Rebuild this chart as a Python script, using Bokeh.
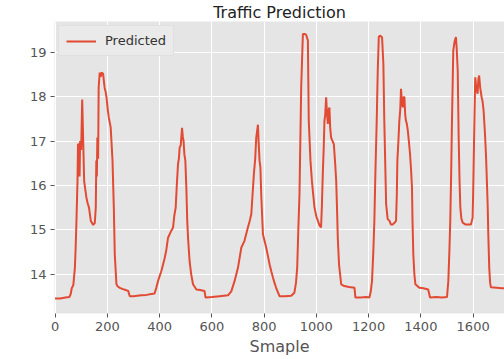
from bokeh.plotting import figure
from bokeh.models import Range1d, FixedTicker, Legend, LegendItem, ColumnDataSource
from bokeh.embed import file_html
from bokeh.resources import INLINE

# ---- data ----
sample = [0, 20, 40, 55, 60, 64, 70, 76, 79, 82, 86, 88, 90, 92, 94, 96, 100, 104, 107, 111.5,
          116, 120, 125, 130, 137, 146, 152, 156, 158, 160, 162, 165, 167, 171, 175, 178, 184, 188,
          190, 194, 197, 202, 205.6, 213, 220, 225, 228.6, 235, 240, 248, 260, 270, 280, 286, 300,
          330, 350, 369, 381, 388, 394, 407, 420, 426, 432.5, 445, 451.7, 456, 461.7, 466, 470.7,
          474, 477, 481, 486, 489, 492, 495, 498.7, 502.5, 506, 509, 515, 521, 528, 541, 555, 572,
          576, 600, 630, 662, 674.5, 687, 700, 713, 725, 738, 745, 751, 756, 761, 766, 770, 776.5,
          779, 782.6, 786, 789, 795.6, 808, 815, 821, 828, 834, 840, 846, 859, 880, 904, 916, 922,
          926.7, 931, 935.5, 942, 948.5, 955, 961, 967.6, 969, 971, 977.5, 983, 988, 993, 1000,
          1006, 1012, 1018, 1021, 1025, 1028, 1031, 1034, 1037.5, 1041, 1044, 1047, 1050, 1053,
          1056.6, 1062, 1067, 1072, 1076, 1080, 1082, 1087, 1091, 1095, 1107, 1125, 1146, 1149.5,
          1170, 1190, 1203, 1208, 1213, 1218, 1222, 1226, 1231, 1235, 1239, 1245, 1251.5, 1256.5,
          1260, 1264, 1267, 1273, 1280, 1285, 1292, 1298, 1305, 1308, 1310, 1314, 1317.6, 1321,
          1324, 1327, 1330.6, 1334, 1337, 1340, 1343, 1346, 1350, 1354, 1358.5, 1362, 1366, 1368,
          1371, 1375, 1379, 1394, 1410, 1428, 1435, 1460, 1480, 1500, 1505, 1509, 1512.5, 1516,
          1519, 1522, 1524, 1529, 1534, 1537, 1541, 1544.6, 1548, 1551, 1555, 1560, 1570, 1580,
          1591.6, 1598, 1600, 1602, 1605, 1608, 1612, 1617, 1620, 1623, 1627, 1632.5, 1636, 1640,
          1645, 1649, 1652, 1655.5, 1658, 1661.6, 1665, 1668, 1690, 1710, 1721, 1750]

predicted = [13.45, 13.45, 13.47, 13.48, 13.55, 13.68, 13.75, 14.14, 14.6, 15.2, 16.1, 16.94, 16.3,
             16.95, 16.2, 17.0, 16.8, 17.94, 17.2, 16.1, 15.9, 15.73, 15.6, 15.5, 15.2, 15.11, 15.15,
             15.5, 16.56, 16.2, 17.08, 16.6, 18.21, 18.55, 18.45, 18.55, 18.52, 18.3, 18.2, 18.1,
             17.99, 17.7, 17.54, 17.31, 16.56, 15.5, 14.45, 13.77, 13.72, 13.69, 13.66, 13.64, 13.62,
             13.5, 13.5, 13.52, 13.53, 13.55, 13.56, 13.7, 13.84, 14.07, 14.37, 14.55, 14.82, 14.98,
             15.05, 15.3, 15.5, 16.0, 16.49, 16.6, 16.86, 16.9, 17.3, 17.1, 17.0, 16.7, 16.56, 15.95,
             15.2, 14.82, 14.29, 14.0, 13.77, 13.65, 13.64, 13.62, 13.47, 13.48, 13.5, 13.52, 13.61,
             13.84, 14.14, 14.6, 14.75, 15.05, 15.2, 15.35, 15.8, 16.26, 16.6, 17.08, 17.37, 17.0,
             16.56, 16.4, 15.8, 14.9, 14.6, 14.4, 14.22, 14.05, 13.92, 13.8, 13.69, 13.5, 13.5,
             13.51, 13.58, 13.8, 14.14, 15.0, 15.8, 18.21, 19.42, 19.42, 19.4, 19.27, 18.5, 17.46,
             16.56, 16.1, 15.8, 15.5, 15.3, 15.2, 15.1, 15.05, 15.5, 16.33, 16.8, 17.46, 17.6, 17.99,
             17.6, 17.39, 17.7, 17.76, 17.3, 17.08, 17.0, 16.93, 16.5, 16.1, 15.3, 14.82, 14.2,
             13.99, 13.77, 13.73, 13.71, 13.69, 13.47, 13.47, 13.48, 13.47, 13.6, 13.84, 14.5, 15.2,
             16.3, 17.46, 18.6, 19.36, 19.38, 19.34, 18.74, 17.46, 16.4, 15.58, 15.24, 15.2, 15.12,
             15.12, 15.15, 15.2, 15.8, 16.56, 17.0, 17.46, 17.7, 18.18, 17.9, 17.76, 18.0, 17.99,
             17.6, 17.46, 17.4, 17.24, 17.0, 16.71, 16.4, 15.95, 15.2, 14.45, 14.0, 13.77, 13.69,
             13.68, 13.65, 13.47, 13.48, 13.47, 13.48, 13.84, 14.5, 15.2, 16.3, 17.46, 18.4, 19.05,
             19.25, 19.35, 19.1, 18.59, 17.08, 16.1, 15.5, 15.25, 15.16, 15.12, 15.12, 15.12, 15.27,
             15.8, 16.48, 17.5, 18.44, 18.2, 18.07, 18.4, 18.48, 18.2, 17.99, 17.9, 17.69, 17.2,
             16.71, 16.2, 15.58, 14.9, 14.14, 13.8, 13.7, 13.69, 13.68, 13.68, 13.67]

x_ticks = [0, 200, 400, 600, 800, 1000, 1200, 1400, 1600]
y_ticks = [14, 15, 16, 17, 18, 19]
title_text = "Traffic Prediction"
x_label = "Smaple"
series_name = "Predicted"

FONT = "DejaVu Sans"
RED = "#E24A33"
BG = "#E5E5E5"
TICK = "#555555"

src = ColumnDataSource(data=dict(x=sample, y=predicted))

p = figure(width=504, height=358, output_backend="svg", toolbar_location=None,
           x_range=Range1d(-2, 1720), y_range=Range1d(13.11, 19.70),
           min_border_left=54, min_border_right=0, min_border_top=0, min_border_bottom=0,
           title=title_text)

p.title.text_font = FONT
p.title.text_font_size = "16px"
p.title.text_font_style = "normal"
p.title.text_color = "#222222"
p.title.text_line_height = 1.0
p.title.align = "center"
p.title.standoff = 0
p.title.offset = 0

p.background_fill_color = BG
p.border_fill_color = "white"
p.outline_line_color = None

r = p.line("x", "y", source=src, line_color=RED, line_width=2)

for ax in (p.xaxis[0], p.yaxis[0]):
    ax.axis_line_color = None
    ax.major_tick_line_color = TICK
    ax.major_tick_out = 4
    ax.major_tick_in = 0
    ax.minor_tick_line_color = None
    ax.major_label_text_font = FONT
    ax.major_label_text_font_size = "13px"
    ax.major_label_text_color = TICK
    ax.major_label_standoff = 4

p.xaxis[0].ticker = FixedTicker(ticks=x_ticks)
p.yaxis[0].ticker = FixedTicker(ticks=y_ticks)
p.xaxis[0].axis_label = x_label
p.xaxis[0].axis_label_text_font = FONT
p.xaxis[0].axis_label_text_font_size = "16px"
p.xaxis[0].axis_label_text_font_style = "normal"
p.xaxis[0].axis_label_text_color = TICK
p.xaxis[0].axis_label_standoff = 3

p.xgrid.ticker = FixedTicker(ticks=x_ticks)
p.ygrid.ticker = FixedTicker(ticks=y_ticks)
p.grid.grid_line_color = "white"
p.grid.grid_line_width = 1

legend = Legend(items=[LegendItem(label=series_name, renderers=[r])],
                location="top_left")
legend.margin = 4
legend.padding = 7
legend.spacing = 0
legend.glyph_width = 30
legend.glyph_height = 14
legend.label_standoff = 9
legend.label_text_font = FONT
legend.label_text_font_size = "13px"
legend.label_text_color = "#333333"
legend.background_fill_color = "#EAEAEA"
legend.background_fill_alpha = 1.0
legend.border_line_color = "#D5D5D5"
legend.border_line_width = 1
p.add_layout(legend)

open("out.html", "w").write(file_html(p, INLINE))
